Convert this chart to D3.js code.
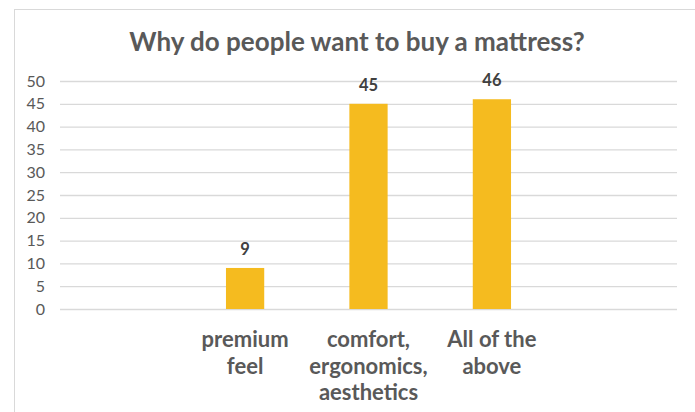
<!DOCTYPE html>
<html><head><meta charset="utf-8">
<script src="https://cdn.jsdelivr.net/npm/d3@7"></script>
<style>body{margin:0;background:#fff}text{font-family:Lato,"Open Sans",sans-serif}</style>
</head><body><svg id="c" width="695" height="412"></svg>
<script>
const categories = ["", "premium feel", "comfort, ergonomics, aesthetics", "All of the above", ""];
const categoryLines = [[], ["premium", "feel"], ["comfort,", "ergonomics,", "aesthetics"], ["All of the", "above"], []];
const values = [null, 9, 45, 46, null];
const yTicks = [0, 5, 10, 15, 20, 25, 30, 35, 40, 45, 50];
const title = "Why do people want to buy a mattress?";

const svg = d3.select("#c");
svg.append("rect").attr("x", 14.5).attr("y", 9.5).attr("width", 700).attr("height", 420)
  .attr("fill", "#fff").attr("stroke", "#d9d9d9").attr("stroke-width", 1);

const m = {l: 60, r: 677, t: 81, b: 309};
const x = d3.scaleBand().domain(d3.range(categories.length)).range([m.l, m.r]).paddingInner(0.69).paddingOuter(0.345);
const y = d3.scaleLinear().domain([0, 50]).range([m.b, m.t]);

svg.append("text").attr("x", 357).attr("y", 51).attr("text-anchor", "middle")
  .attr("font-size", 26).attr("font-weight", "bold").attr("fill", "#595959").text(title);

const ga = svg.append("g").attr("transform", `translate(${m.l},0)`)
  .call(d3.axisLeft(y).tickValues(yTicks).tickSize(-(m.r - m.l)).tickPadding(15));
ga.select(".domain").remove();
ga.selectAll(".tick line").attr("stroke", "#d9d9d9").attr("stroke-width", 1.3);
ga.selectAll(".tick text").attr("font-size", 16).attr("fill", "#595959").attr("font-family", "Lato,'Open Sans',sans-serif");

const data = values.map((v, i) => ({i, v})).filter(d => d.v != null);
svg.selectAll(".bar").data(data).enter().append("rect")
  .attr("x", d => x(d.i)).attr("width", x.bandwidth())
  .attr("y", d => y(d.v)).attr("height", d => y(0) - y(d.v)).attr("fill", "#F5BB1F");

svg.selectAll(".vl").data(data).enter().append("text")
  .attr("x", d => x(d.i) + x.bandwidth() / 2).attr("y", d => y(d.v) - 13)
  .attr("text-anchor", "middle").attr("font-size", 16.5).attr("font-weight", "bold").attr("fill", "#404040")
  .text(d => d.v);

categoryLines.forEach((lines, i) => {
  const t = svg.append("text").attr("text-anchor", "middle").attr("font-size", 22).attr("font-weight", "bold").attr("fill", "#595959");
  lines.forEach((ln, k) => {
    t.append("tspan").attr("x", x(i) + x.bandwidth() / 2).attr("y", 347 + k * 26.5).text(ln);
  });
});
</script></body></html>
